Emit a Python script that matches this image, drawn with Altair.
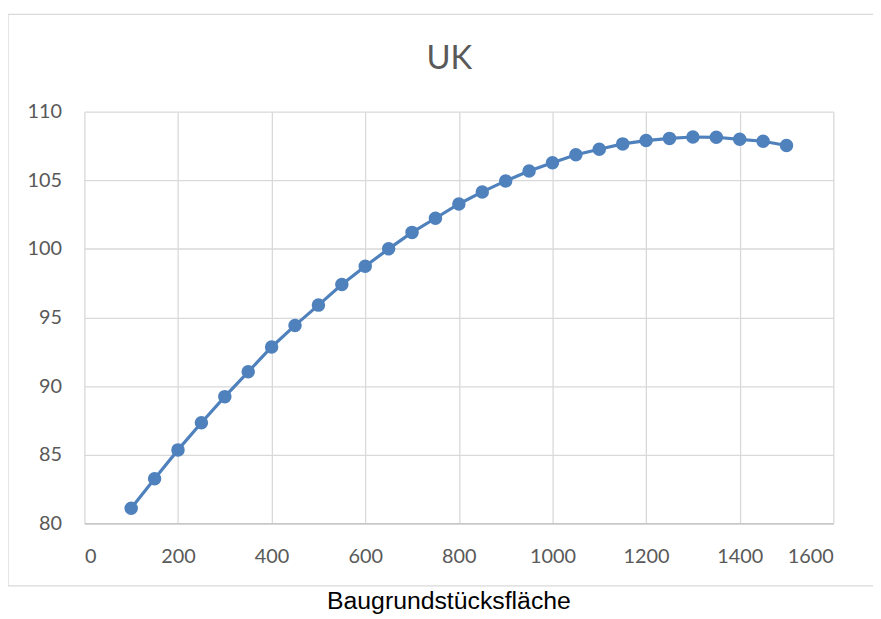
import altair as alt
import pandas as pd

x_vals = [100, 150, 200, 250, 300, 350, 400, 450, 500, 550, 600, 650, 700, 750,
          800, 850, 900, 950, 1000, 1050, 1100, 1150, 1200, 1250, 1300, 1350,
          1400, 1450, 1500]
y_vals = [81.1, 83.25, 85.35, 87.33, 89.23, 91.04, 92.85, 94.42, 95.9, 97.4,
          98.73, 100.0, 101.2, 102.23, 103.27, 104.15, 104.95, 105.67, 106.28,
          106.86, 107.26, 107.65, 107.89, 108.05, 108.15, 108.13, 107.98,
          107.84, 107.53]
x_ticks = [0, 200, 400, 600, 800, 1000, 1200, 1400, 1600]
y_ticks = [80, 85, 90, 95, 100, 105, 110]
title_text = "UK"
x_title = "Baugrundstücksfläche"

df = pd.DataFrame({"x": x_vals, "y": y_vals})

W, H = 755, 415
PL, PT = 77, 102

x_enc = alt.X("x:Q", scale=alt.Scale(domain=[0, 1600], nice=False),
              axis=alt.Axis(values=x_ticks, title=x_title, grid=True, ticks=False,
                            format="d",
                            labelPadding=34, labelBaseline="middle",
                            titleY=78, titleX=367, titleBaseline="middle",
                            titleFont="Liberation Sans", titleFontSize=25,
                            titleFontWeight="normal", titleColor="#000000",
                            domainColor="#bfbfbf", domainWidth=1.3))
y_enc = alt.Y("y:Q", scale=alt.Scale(domain=[80, 110], nice=False, zero=False),
              axis=alt.Axis(values=y_ticks, title=None, grid=True, ticks=False,
                            format="d", domain=False, labelPadding=23))

base = alt.Chart(df)
line = base.mark_line(color="#4f81bd", strokeWidth=3.2).encode(x=x_enc, y=y_enc)
pts = base.mark_point(filled=True, color="#4f81bd", size=185, opacity=1).encode(x="x:Q", y="y:Q")

one = pd.DataFrame({"t": [title_text]})
border = alt.Chart(one).mark_rect(
    filled=False, stroke="#d9d9d9", strokeWidth=1.3, fill=None
).encode(x=alt.value(-PL), x2=alt.value(W + 60), y=alt.value(-(PT - 4)), y2=alt.value(H + 63))

title = alt.Chart(one).mark_text(
    font="Lato", fontSize=33, color="#595959", baseline="middle", align="center"
).encode(text="t:N", x=alt.value(368), y=alt.value(-53))

chart = alt.layer(border, title, line, pts).properties(
    width=W, height=H,
    autosize=alt.AutoSizeParams(type="none"),
    padding={"left": PL, "top": PT, "right": 40, "bottom": 93},
).configure_view(stroke=None).configure_axis(
    labelFont="Lato", labelFontSize=20, labelColor="#595959",
    gridColor="#d9d9d9", gridWidth=1.3,
)

chart.save("out.html", embed_options={"renderer": "svg", "actions": False})
